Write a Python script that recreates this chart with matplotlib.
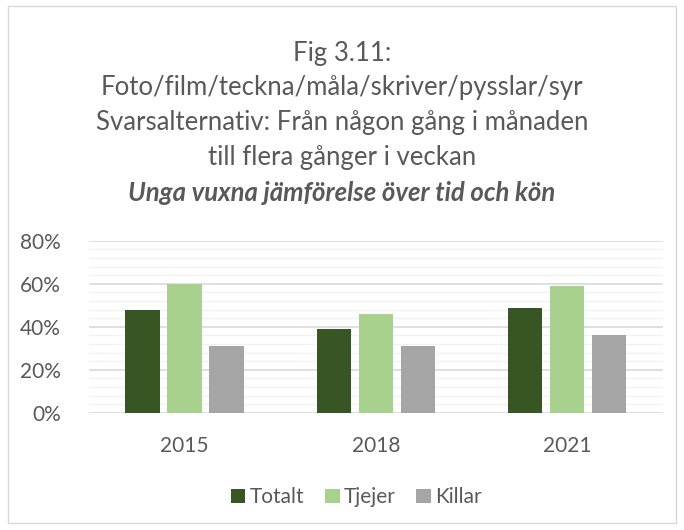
import matplotlib.pyplot as plt
import numpy as np
from matplotlib.patches import Rectangle

years = ["2015", "2018", "2021"]
series = ["Totalt", "Tjejer", "Killar"]
totalt = [0.48, 0.39, 0.49]
tjejer = [0.60, 0.46, 0.59]
killar = [0.31, 0.31, 0.36]
colors = ["#375623", "#A9D18E", "#A5A5A5"]

plt.rcParams['font.family'] = ['Lato', 'DejaVu Sans']

fig = plt.figure(figsize=(6.84, 5.30), dpi=100)
fig.patches.append(Rectangle((0.011, 0.013), 0.977, 0.975, transform=fig.transFigure,
                             fill=False, edgecolor="#D9D9D9", linewidth=1))

title_lines = ["Fig 3.11:",
               "Foto/film/teckna/måla/skriver/pysslar/syr",
               "Svarsalternativ: Från någon gång i månaden",
               "till flera gånger i veckan"]
y = 0.900
for line in title_lines:
    fig.text(0.5, y, line, ha="center", va="center", fontsize=18.5, color="#595959")
    y -= 0.066
fig.text(0.5, y, "Unga vuxna jämförelse över tid och kön", ha="center", va="center",
         fontsize=18.5, color="#595959", fontweight="bold", fontstyle="italic")

# plot area: gridlines from x=90 to 663 px, 0% at y=413, 80% at y=241
ax = fig.add_axes([0.130, 0.221, 0.839, 0.3245])
x = np.arange(len(years))
w = 0.18
step = 0.22
for i, (vals, c, name) in enumerate(zip([totalt, tjejer, killar], colors, series)):
    ax.bar(x + (i - 1) * step, vals, w, color=c, label=name, zorder=3)

ax.set_xlim(-0.5, 2.5)
ax.set_ylim(0, 0.8)
ax.set_yticks(np.arange(0, 0.81, 0.2))
ax.set_yticklabels([f"{int(round(v * 100))}%" for v in np.arange(0, 0.81, 0.2)])
ax.set_yticks(np.arange(0, 0.81, 0.04), minor=True)
ax.grid(axis="y", which="major", color="#D9D9D9", linewidth=1.2, zorder=0)
ax.grid(axis="y", which="minor", color="#F2F2F2", linewidth=1.0, zorder=0)
ax.set_xticks(x)
ax.set_xticklabels(years)
for s in ax.spines.values():
    s.set_visible(False)
ax.tick_params(axis="both", which="both", length=0, labelsize=15, colors="#595959")
ax.tick_params(axis="x", pad=17)
ax.tick_params(axis="y", pad=20)

ax.legend(loc="center", bbox_to_anchor=(0.466, -0.49), ncol=3, frameon=False,
          fontsize=15, labelcolor="#595959", handlelength=0.7, handleheight=0.7,
          handletextpad=0.2, columnspacing=1.0)

fig.savefig("out.png", dpi=100)
